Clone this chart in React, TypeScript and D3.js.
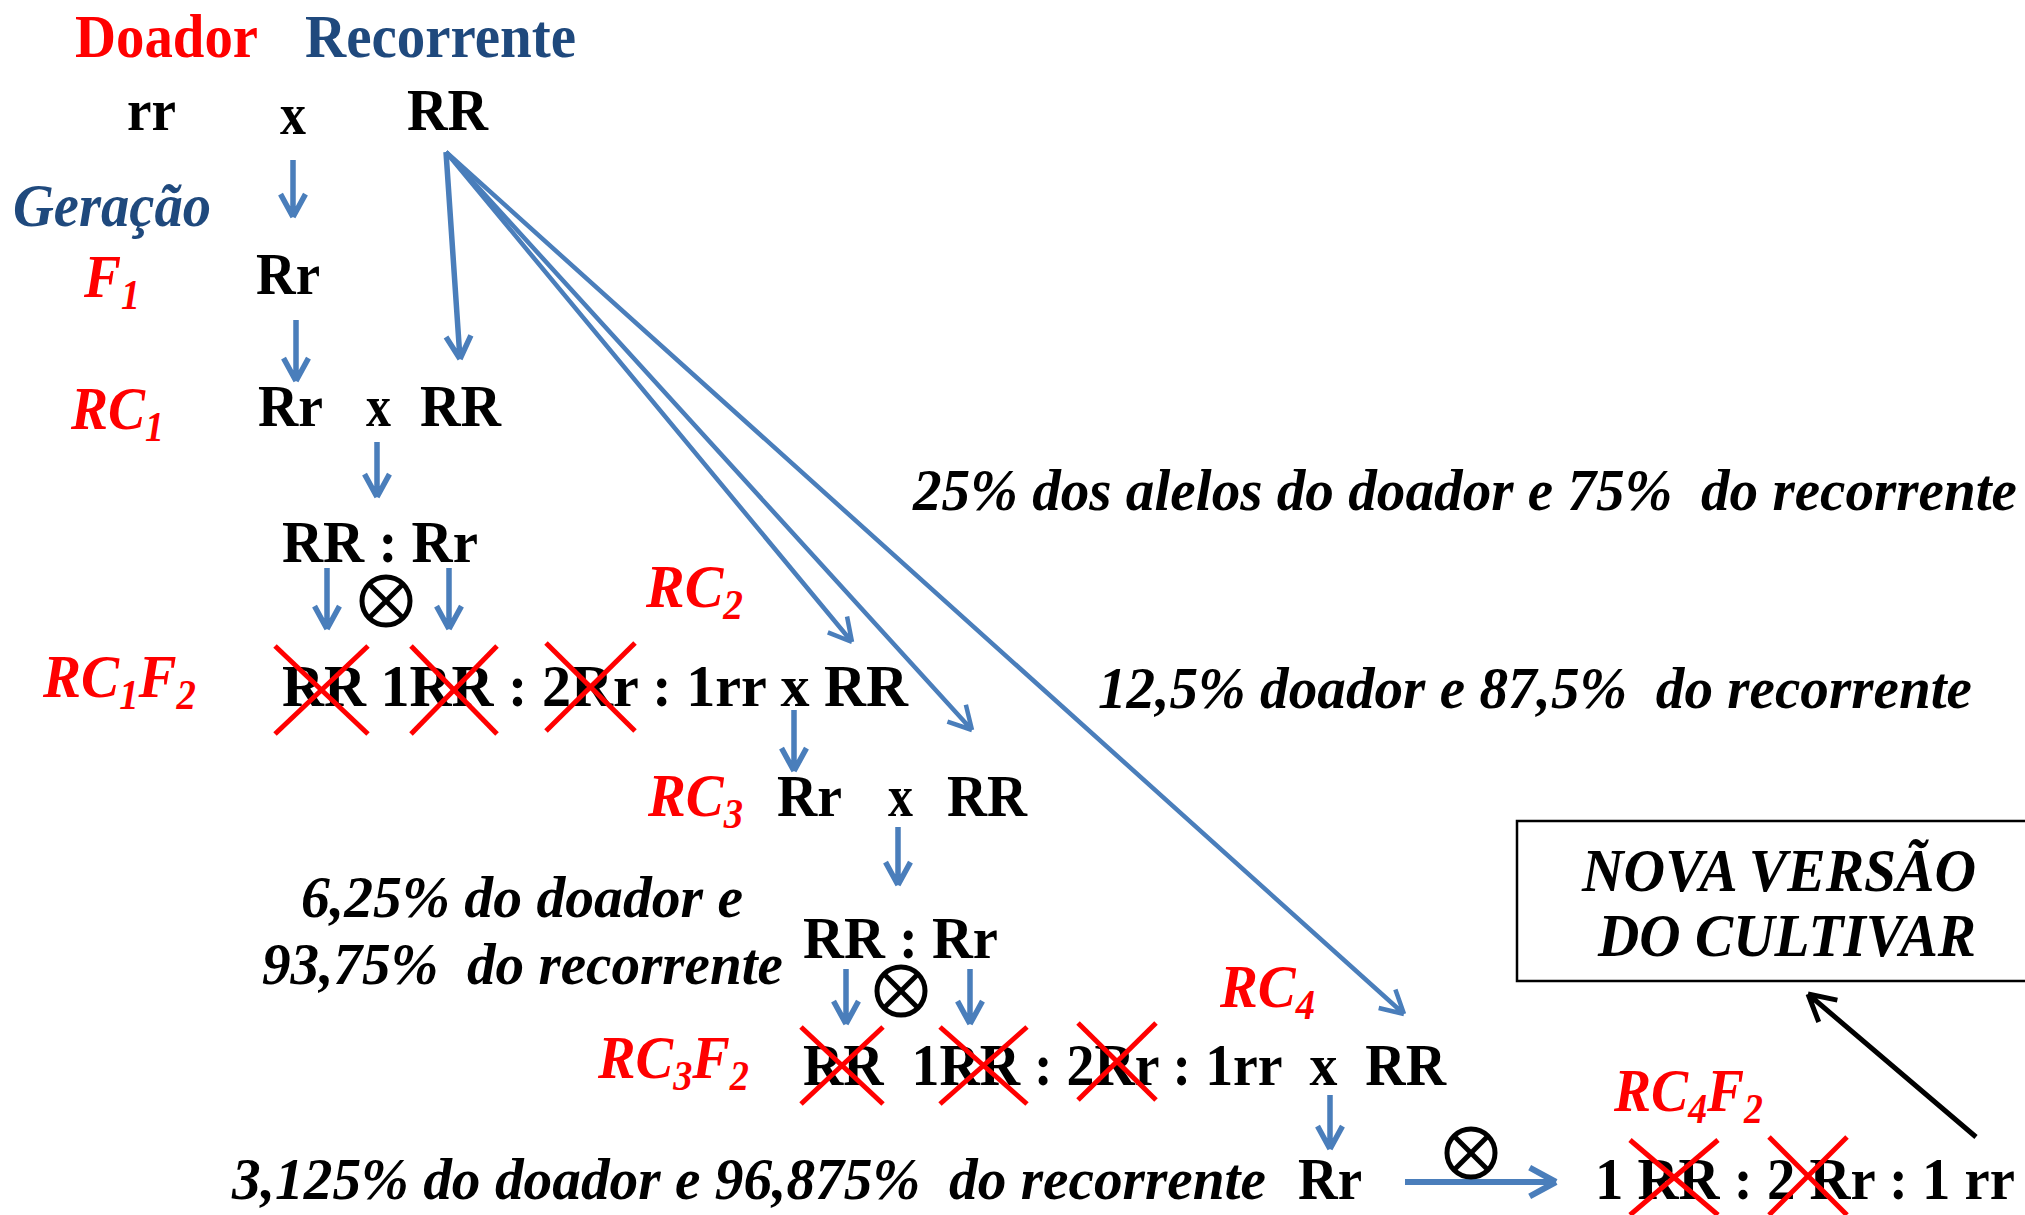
import React from 'react';
import * as d3 from 'd3';

// texts of the backcross scheme
const headers = ['Doador', 'Recorrente'];
const parents = ['rr', 'x', 'RR'];
const generations = ['F_1', 'RC_1', 'RC_2', 'RC_1F_2', 'RC_3', 'RC_4', 'RC_3F_2', 'RC_4F_2'];
const genotypes = [
  'Rr', 'Rr', 'x', 'RR', 'RR : Rr', 'RR 1RR : 2Rr : 1rr x RR',
  'Rr', 'x', 'RR', 'RR : Rr', 'RR  1RR : 2Rr : 1rr  x  RR', 'Rr', '1 RR : 2 Rr : 1 rr',
];
const shares = [
  '25% dos alelos do doador e 75%  do recorrente',
  '12,5% doador e 87,5%  do recorrente',
  '6,25% do doador e',
  '93,75%  do recorrente',
  '3,125% do doador e 96,875%  do recorrente',
];
const result = ['NOVA VERSÃO', 'DO CULTIVAR'];

const RED = '#ff0000';
const DARK_BLUE = '#1f497d';
const LINE_BLUE = '#4a7ebb';
const FONT = '"Liberation Serif", "Times New Roman", serif';

// layout: [x, baseline, width]
const headerPos = [[75, 57, 183], [305, 57, 271]];
const parentPos = [[127, 130, 49], [280, 134, 26], [407, 130, 81]];
const generationPos = [
  [84, 297, 56], [71, 429, 93], [646, 607, 97], [43, 697, 153],
  [648, 816, 95], [1220, 1007, 95], [598, 1078, 151], [1614, 1111, 149],
];
const genotypePos = [
  [256, 294, 64], [258, 426, 65], [366, 426, 25], [420, 426, 81], [282, 562, 196], [282, 706, 626],
  [777, 816, 65], [888, 816, 25], [947, 816, 80], [803, 958, 195], [803, 1085, 643], [1298, 1199, 64], [1595, 1199, 420],
];
const sharePos = [[913, 510, 1104], [1098, 708, 874], [301, 917, 442], [262, 984, 521], [232, 1199, 1034]];
const resultPos = [[1582, 891, 394], [1598, 956, 378]];

// blue arrows [x1, y1, x2, y2]
const arrows = [
  [293, 160, 293, 217], [296, 320, 296, 381], [446, 152, 460, 359],
  [446, 152, 852, 642], [446, 152, 972, 730], [446, 152, 1404, 1014],
  [377, 442, 377, 497], [327, 568, 327, 629], [449, 568, 449, 629],
  [794, 710, 794, 771], [898, 827, 898, 885], [846, 969, 846, 1024], [970, 969, 970, 1024],
  [1330, 1095, 1330, 1149], [1405, 1182, 1556, 1182],
];
const fanLines = new Set([3, 4, 5]);
// selfing symbols [cx, cy]
const selfings = [[386, 601], [901, 991], [1471, 1153]];
// red crosses [x1, y1, x2, y2]
const crosses = [
  [275, 646, 368, 734], [411, 646, 497, 734], [546, 643, 635, 731],
  [801, 1027, 883, 1104], [940, 1027, 1027, 1104], [1078, 1023, 1156, 1100],
  [1630, 1140, 1718, 1215], [1769, 1137, 1847, 1215],
];

const parse = (s: string) =>
  s.split(/(_.)/).filter(Boolean).map(t => (t.startsWith('_') ? { t: t.slice(1), sub: true } : { t, sub: false }));

function Label({ x, y, w, fs, fill, italic, text }: any) {
  const parts = parse(text);
  let down = false;
  return (
    <text x={x} y={y} textLength={w} lengthAdjust="spacingAndGlyphs" fontFamily={FONT}
      fontWeight="bold" fontStyle={italic ? 'italic' : 'normal'} fontSize={fs} fill={fill}
      style={{ whiteSpace: 'pre' }}>
      {parts.map((p, i) => {
        let dy = 0;
        if (p.sub && !down) { dy = fs * 0.2; down = true; }
        else if (!p.sub && down) { dy = -fs * 0.2; down = false; }
        return <tspan key={i} dy={dy} fontSize={p.sub ? fs * 0.68 : fs}>{p.t}</tspan>;
      })}
    </text>
  );
}

function arrowPath(a: number[], head = 24) {
  const [x1, y1, x2, y2] = a;
  const ang = Math.atan2(y2 - y1, x2 - x1);
  const p = d3.path();
  p.moveTo(x1, y1);
  p.lineTo(x2, y2);
  [-0.5, 0.5].forEach(o => {
    p.moveTo(x2 - head * Math.cos(ang + o), y2 - head * Math.sin(ang + o));
    p.lineTo(x2, y2);
  });
  return p.toString();
}

export default function App() {
  return (
    <div style={{ position: 'absolute', left: 0, top: 0 }}>
      <svg width={2025} height={1215} style={{ display: 'block', background: '#fff' }}>
        {headers.map((h, i) => {
          const [x, y, w] = headerPos[i];
          return <Label key={h} x={x} y={y} w={w} fs={62} fill={i === 0 ? RED : DARK_BLUE} text={h} />;
        })}
        <Label x={13} y={226} w={198} fs={62} fill={DARK_BLUE} italic text="Geração" />
        {parents.map((t, i) => {
          const [x, y, w] = parentPos[i];
          return <Label key={i} x={x} y={y} w={w} fs={60} fill="#000" text={t} />;
        })}
        {generations.map((g, i) => {
          const [x, y, w] = generationPos[i];
          return <Label key={g} x={x} y={y} w={w} fs={62} fill={RED} italic text={g} />;
        })}
        {genotypes.map((t, i) => {
          const [x, y, w] = genotypePos[i];
          return <Label key={i} x={x} y={y} w={w} fs={60} fill="#000" text={t} />;
        })}
        {shares.map((t, i) => {
          const [x, y, w] = sharePos[i];
          return <Label key={i} x={x} y={y} w={w} fs={60} fill="#000" italic text={t} />;
        })}
        <rect x={1517} y={821} width={520} height={160} fill="none" stroke="#000" strokeWidth={2.5} />
        {result.map((t, i) => {
          const [x, y, w] = resultPos[i];
          return <Label key={t} x={x} y={y} w={w} fs={62} fill="#000" italic text={t} />;
        })}
        <path d={arrowPath([1976, 1137, 1808, 994], 30)} stroke="#000" strokeWidth={5} fill="none" />
        {arrows.map((a, i) => (
          <path key={i} d={arrowPath(a, i === arrows.length - 1 ? 30 : 26)} stroke={LINE_BLUE}
            strokeWidth={i === arrows.length - 1 ? 6 : fanLines.has(i) ? 4.5 : 5.5} fill="none" />
        ))}
        {selfings.map(([cx, cy], i) => (
          <g key={i} stroke="#000" strokeWidth={5} fill="none">
            <circle cx={cx} cy={cy} r={24} />
            <line x1={cx - 16} y1={cy - 16} x2={cx + 16} y2={cy + 16} />
            <line x1={cx + 16} y1={cy - 16} x2={cx - 16} y2={cy + 16} />
          </g>
        ))}
        {crosses.map(([x1, y1, x2, y2], i) => (
          <g key={i} stroke={RED} strokeWidth={5}>
            <line x1={x1} y1={y1} x2={x2} y2={y2} />
            <line x1={x2} y1={y1} x2={x1} y2={y2} />
          </g>
        ))}
      </svg>
    </div>
  );
}
